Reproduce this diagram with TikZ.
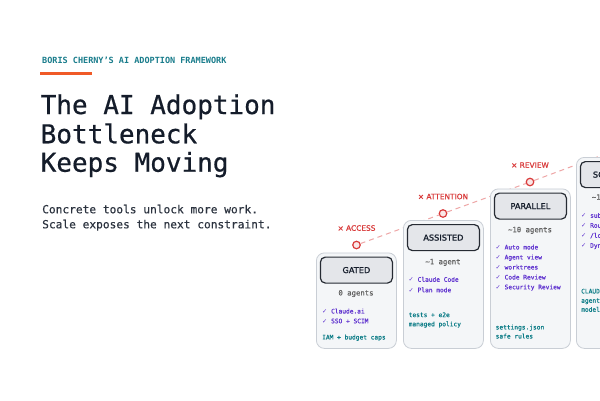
\documentclass[tikz,border=0pt]{standalone}
\usepackage{fontspec}
\setmainfont{DejaVu Sans Mono}
\newfontfamily\labelfont{DejaVu Sans}
\usetikzlibrary{positioning}
\definecolor{ink}{HTML}{141C2A}
\definecolor{kicker}{HTML}{1A7D8C}
\definecolor{bar}{HTML}{F05A28}
\definecolor{cardfill}{HTML}{F4F6F8}
\definecolor{cardline}{HTML}{C9CED5}
\definecolor{headfill}{HTML}{E4E6EA}
\definecolor{headline}{HTML}{262B33}
\definecolor{alert}{HTML}{D93A3A}
\definecolor{tickcol}{HTML}{6236D0}
\definecolor{notecol}{HTML}{0F7E88}
\newcommand{\chk}{{\labelfont ✓}}
\tikzset{
  card/.style={draw=cardline, fill=cardfill, rounded corners=8pt, line width=0.8pt,
    anchor=north west, minimum width=80pt, inner sep=0pt},
  header/.style={draw=headline, fill=headfill, rounded corners=5pt, line width=1.2pt,
    minimum width=72pt, minimum height=26pt, inner sep=0pt,
    font=\labelfont\fontsize{8.2}{9}\selectfont\addfontfeature{FakeBold=1.2}, text=ink},
  agents/.style={anchor=mid, font=\fontsize{7.3}{8}\selectfont\addfontfeature{FakeBold=0.4}, text=black!62},
  tick/.style={anchor=mid west, inner sep=0pt, font=\fontsize{6.2}{7}\selectfont\addfontfeature{FakeBold=0.8}, text=tickcol},
  note/.style={anchor=mid west, inner sep=0pt, font=\fontsize{6.2}{7}\selectfont\addfontfeature{FakeBold=0.8}, text=notecol},
  marker/.style={circle, draw=alert, fill=alert!12, line width=1.2pt, minimum size=7.5pt, inner sep=0pt},
  gate/.style={anchor=mid, font=\labelfont\fontsize{7.4}{8}\selectfont\addfontfeature{FakeBold=0.8}, text=alert},
  trail/.style={draw=alert!45, dash pattern=on 5pt off 4pt, line width=1pt}
}
\begin{document}
\begin{tikzpicture}[x=1pt,y=-1pt]
\useasboundingbox (0,0) rectangle (600,400);
\fill[white] (0,0) rectangle (600,400);
\begin{scope}
\clip (0,0) rectangle (600,400);
\node[anchor=base west, inner sep=0pt, font=\bfseries\fontsize{8.5}{10}\selectfont, text=kicker] (kick) at (42,63) {BORIS CHERNY’S AI ADOPTION FRAMEWORK};
\fill[bar] (40,71.5) rectangle (92,74.5);
\node[anchor=base west, inner sep=0pt, font=\fontsize{26}{29}\selectfont\addfontfeature{FakeBold=0.6}, text=ink] (title1) at (40.5,114) {The AI Adoption};
\node[anchor=base west, inner sep=0pt, font=\fontsize{26}{29}\selectfont\addfontfeature{FakeBold=0.6}, text=ink] (title2) at (40.5,143.3) {Bottleneck};
\node[anchor=base west, inner sep=0pt, font=\fontsize{26}{29}\selectfont\addfontfeature{FakeBold=0.6}, text=ink] (title3) at (40.5,171.7) {Keeps Moving};
\node[anchor=base west, inner sep=0pt, font=\fontsize{11.2}{13}\selectfont\addfontfeature{FakeBold=0.4}, text=ink!90] (sub1) at (42,213.3) {Concrete tools unlock more work.};
\node[anchor=base west, inner sep=0pt, font=\fontsize{11.2}{13}\selectfont\addfontfeature{FakeBold=0.4}, text=ink!90] (sub2) at (42,228.3) {Scale exposes the next constraint.};

\node[marker] (m1) at (356.5,245) {};
\node[marker] (m2) at (443,213.5) {};
\node[marker] (m3) at (530,182) {};
\node[marker] (m4) at (616,150) {};
\draw[trail] (m1) -- (m2) -- (m3) -- (m4);
\node[gate] (g1) at (356.5,228) {× ACCESS};
\node[gate] (g2) at (443,196.5) {× ATTENTION};
\node[gate] (g3) at (530,165) {× REVIEW};

\node[card, minimum height=95.5pt] (card1) at (316,252.5) {};
\node[header, below=4pt of card1.north] (head1) {GATED};
\node[agents] (n1) at (356,292.7) {0 agents};
\node[tick] (t11) at (322,310.7) {\chk{} Claude.ai};
\node[tick] (t12) at (322,320.5) {\chk{} SSO + SCIM};
\node[note] (b11) at (322,336.7) {IAM + budget caps};

\node[card, minimum height=128pt] (card2) at (403,220) {};
\node[header, below=4pt of card2.north] (head2) {ASSISTED};
\node[agents] (n2) at (443,261.5) {\textasciitilde1 agent};
\node[tick] (t21) at (408.5,279) {\chk{} Claude Code};
\node[tick] (t22) at (408.5,289.5) {\chk{} Plan mode};
\node[note] (b21) at (408.5,314.3) {tests + e2e};
\node[note] (b22) at (408.5,323.5) {managed policy};

\node[card, minimum height=159.5pt] (card3) at (490,188.5) {};
\node[header, below=4pt of card3.north] (head3) {PARALLEL};
\node[agents] (n3) at (530,229.5) {\textasciitilde10 agents};
\node[tick] (t31) at (495.5,246.7) {\chk{} Auto mode};
\node[tick] (t32) at (495.5,256.7) {\chk{} Agent view};
\node[tick] (t33) at (495.5,266.7) {\chk{} worktrees};
\node[tick] (t34) at (495.5,276.7) {\chk{} Code Review};
\node[tick] (t35) at (495.5,286.5) {\chk{} Security Review};
\node[note] (b31) at (495.5,326.7) {settings.json};
\node[note] (b32) at (495.5,335.7) {safe rules};

\node[card, minimum height=191pt] (card4) at (576,157) {};
\node[header, below=4pt of card4.north] (head4) {SCALE-OUT};
\node[agents] (n4) at (616,197) {\textasciitilde100 agents};
\node[tick] (t41) at (581,215) {\chk{} subagents};
\node[tick] (t42) at (581,225) {\chk{} Routines};
\node[tick] (t43) at (581,235) {\chk{} /loop};
\node[tick] (t44) at (581,245) {\chk{} Dynamic};
\node[note] (b41) at (581,290.7) {CLAUDE.md};
\node[note] (b42) at (581,300) {agent teams};
\node[note] (b43) at (581,309) {model routing};
\end{scope}
\end{tikzpicture}
\end{document}
